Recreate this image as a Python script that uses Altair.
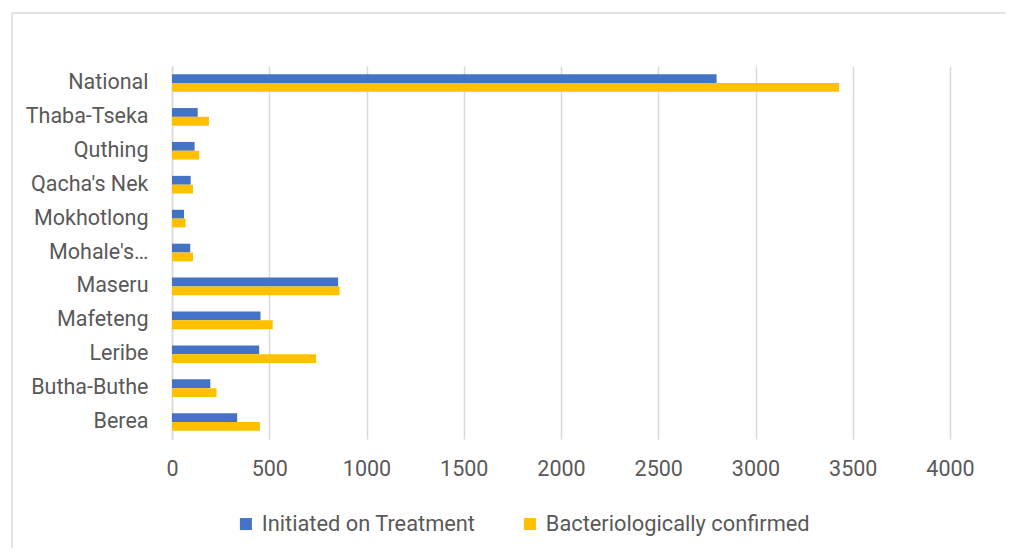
import altair as alt
import pandas as pd

categories = ["National", "Thaba-Tseka ", "Quthing", "Qacha's Nek", "Mokhotlong",
              "Mohale's Hoek", "Maseru", "Mafeteng", "Leribe", "Butha-Buthe", "Berea"]
series_names = ["Initiated on Treatment", "Bacteriologically confirmed"]
initiated = [2800, 132, 116, 96, 62, 94, 854, 455, 448, 197, 335]
confirmed = [3430, 190, 140, 108, 70, 108, 862, 518, 741, 229, 452]
x_ticks = [0, 500, 1000, 1500, 2000, 2500, 3000, 3500, 4000]
colors = ["#4472C4", "#FFC000"]

rows = []
for c, a, b in zip(categories, initiated, confirmed):
    rows.append({"category": c, "series": series_names[0], "value": a})
    rows.append({"category": c, "series": series_names[1], "value": b})
df = pd.DataFrame(rows)

FONT = "Roboto"
TXT = "#595959"
GRID = "#d9d9d9"

bars = alt.Chart(df).mark_bar().encode(
    x=alt.X("value:Q",
            scale=alt.Scale(domain=[0, 4000], nice=False),
            axis=alt.Axis(values=x_ticks, title=None, grid=True, gridColor=GRID,
                          gridWidth=1.5, domain=False, ticks=False, labelPadding=19,
                          format="d", labelFlush=False, labelOverlap=False,
                          labelFontSize=21.5, labelColor=TXT, labelFont=FONT)),
    y=alt.Y("category:N", sort=categories,
            scale=alt.Scale(paddingInner=0.48, paddingOuter=0.24),
            axis=alt.Axis(title=None, ticks=False, domain=True, domainColor=GRID,
                          domainWidth=1.5, labelPadding=24, labelFontSize=21.5,
                          labelColor=TXT, labelFont=FONT, labelLimit=200,
                          labelExpr="datum.label == \"Mohale's Hoek\" ? \"Mohale's\u2026\" : datum.label")),
    yOffset=alt.YOffset("series:N", sort=series_names, scale=alt.Scale(paddingInner=0)),
    color=alt.Color("series:N",
                    scale=alt.Scale(domain=series_names, range=colors),
                    legend=alt.Legend(title=None, orient="none", direction="horizontal",
                                      legendX=63, legendY=447, symbolType="square",
                                      symbolSize=144, symbolStrokeWidth=0,
                                      labelFontSize=21.8, labelColor=TXT, labelFont=FONT,
                                      labelOffset=5, columnPadding=43, padding=0,
                                      labelLimit=400)),
)

frame_df = pd.DataFrame({"k": [0]})
left_line = alt.Chart(frame_df).mark_rule(color=GRID, strokeWidth=1.5).encode(
    x=alt.value(-160), y=alt.value(-53), y2=alt.value(490))
top_line = alt.Chart(frame_df).mark_rule(color=GRID, strokeWidth=1.5).encode(
    x=alt.value(-160), x2=alt.value(850), y=alt.value(-53))

chart = alt.layer(bars, left_line, top_line).properties(
    width=778, height=373,
    padding={"left": 164, "top": 58, "right": 55, "bottom": 109},
    autosize=alt.AutoSizeParams(type="none"),
).configure_view(strokeWidth=0)

chart.save("out.html", embed_options={"renderer": "svg", "actions": False})
